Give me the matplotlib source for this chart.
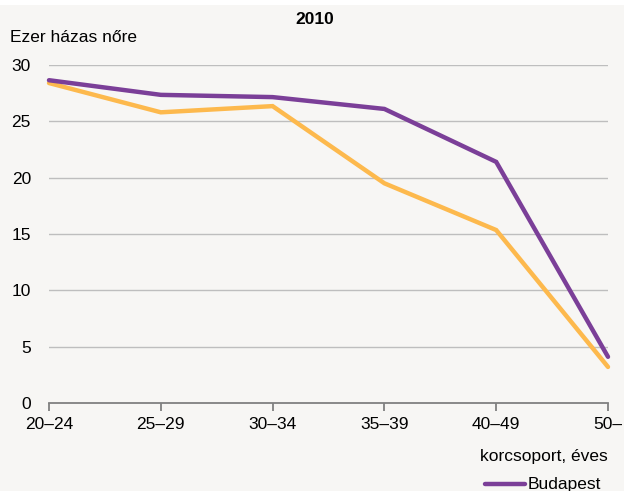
import matplotlib
matplotlib.use("Agg")
import matplotlib.pyplot as plt
from matplotlib.patches import Rectangle
from matplotlib.lines import Line2D
from matplotlib import font_manager

names = {f.name for f in font_manager.fontManager.ttflist}
FONT = "Liberation Sans Narrow" if "Liberation Sans Narrow" in names else "Liberation Sans"
plt.rcParams['font.family'] = [FONT, 'DejaVu Sans']

categories = ["20–24", "25–29", "30–34", "35–39", "40–49", "50–"]
budapest = [28.65, 27.35, 27.15, 26.1, 21.4, 4.1]
other = [28.4, 25.8, 26.35, 19.5, 15.35, 3.2]
yticks = [0, 5, 10, 15, 20, 25, 30]

BG = "#F7F6F4"
PURPLE = "#7B3F98"
ORANGE = "#FDB94D"

fig = plt.figure(figsize=(6.24, 4.91), dpi=100, facecolor=BG)
fig.patches.append(Rectangle((0, 1 - 5/491), 1, 5/491, transform=fig.transFigure,
                             facecolor="white", edgecolor="none", zorder=0))
ax = fig.add_axes([49/624, 1 - 403/491, (608 - 49)/624, (403 - 65)/491])
ax.set_facecolor(BG)
x = list(range(len(categories)))
ax.plot(x, other, color=ORANGE, lw=3.2, solid_joinstyle="miter", solid_capstyle="round",
        zorder=3, clip_on=False)
ax.plot(x, budapest, color=PURPLE, lw=3.2, solid_joinstyle="miter", solid_capstyle="round",
        zorder=4, clip_on=False)
ax.set_xlim(0, len(categories) - 1)
ax.set_ylim(0, 30)
ax.set_yticks(yticks)
ax.set_xticks(x)
ax.set_xticklabels(categories)
for s in ["top", "right", "left"]:
    ax.spines[s].set_visible(False)
ax.spines["bottom"].set_color("#808080")
ax.spines["bottom"].set_linewidth(1.3)
ax.grid(axis="y", color="#BEBEBE", lw=1.0)
ax.set_axisbelow(True)
ax.tick_params(axis="y", length=0, pad=13, labelsize=12.5, colors="black")
ax.tick_params(axis="x", length=6, width=1.3, color="#808080", pad=4, labelsize=12.5, colors="black")
ax.yaxis.get_gridlines()[0].set_visible(False)

fig.text(315/624, 1 - 20/491, "2010", ha="center", va="center", fontsize=12.5, fontweight="bold")
fig.text(10/624, 1 - 38/491, "Ezer házas nőre", ha="left", va="center", fontsize=12.5)
fig.text(608/624, 1 - 457/491, "korcsoport, éves", ha="right", va="center", fontsize=12.5)

fig.lines.append(Line2D([485/624, 525/624], [1 - 484/491, 1 - 484/491], transform=fig.transFigure,
                        color=PURPLE, lw=3.2, solid_capstyle="round"))
fig.text(528/624, 1 - 484/491, "Budapest", ha="left", va="center", fontsize=12.5)

fig.savefig("out.png", dpi=100, facecolor=BG)
